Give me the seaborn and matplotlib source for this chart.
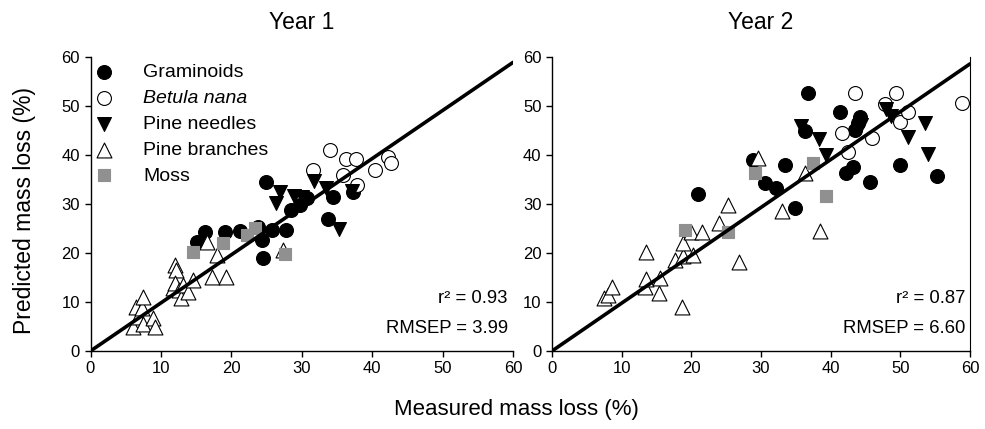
import matplotlib
matplotlib.use("Agg")
import matplotlib.pyplot as plt
import seaborn as sns
import pandas as pd

# ---------------- data ----------------
categories = ["Graminoids", "Betula nana", "Pine needles", "Pine branches", "Moss"]

# Year 1
gram1_x = [15.1, 16.2, 19.1, 21.2, 23.8, 24.3, 24.5, 24.9, 25.8, 27.7, 28.5, 29.7, 30.7, 33.7, 34.4, 37.3]
gram1_y = [22.3, 24.3, 24.3, 24.5, 25.4, 22.6, 19.0, 34.5, 24.6, 24.6, 28.8, 29.8, 31.2, 26.9, 31.5, 32.5]
betula1_x = [31.6, 34.0, 35.9, 36.3, 37.7, 37.8, 40.4, 42.2, 42.7]
betula1_y = [36.9, 41.0, 35.9, 39.1, 39.1, 33.9, 36.9, 39.5, 38.3]
needles1_x = [26.4, 26.9, 28.9, 30.1, 31.7, 33.4, 35.3, 37.2]
needles1_y = [30.3, 32.5, 31.6, 31.5, 34.6, 33.3, 24.8, 32.6]
branches1_x = [6.1, 6.5, 6.8, 7.3, 7.5, 7.5, 8.9, 9.2, 11.7, 12.0, 12.2, 12.0, 12.5, 12.9, 13.1,
               13.9, 14.6, 16.5, 17.2, 17.9, 19.3, 27.3]
branches1_y = [5.0, 9.0, 7.0, 8.7, 11.1, 5.6, 6.7, 5.0, 12.8, 17.6, 16.5, 13.8, 12.4, 10.8, 13.5,
               12.1, 14.5, 22.3, 15.2, 19.6, 15.2, 20.6]
moss1_x = [14.6, 18.8, 22.2, 23.4, 27.6]
moss1_y = [20.3, 22.1, 23.7, 25.1, 19.8]

# Year 2
gram2_x = [21.0, 28.9, 30.6, 32.2, 33.4, 34.9, 36.3, 36.8, 41.4, 42.2, 43.2, 43.5, 43.9, 44.2, 45.7, 49.9, 55.2]
gram2_y = [32.0, 39.0, 34.2, 33.2, 38.0, 29.2, 44.8, 52.7, 48.8, 36.3, 37.6, 45.0, 46.5, 47.8, 34.5, 38.0, 35.7]
betula2_x = [41.6, 42.5, 43.5, 46.0, 47.8, 49.4, 49.9, 51.1, 58.9]
betula2_y = [44.4, 40.7, 52.6, 43.4, 50.5, 52.6, 46.8, 48.8, 50.7]
needles2_x = [35.7, 38.3, 39.4, 44.3, 48.0, 48.6, 51.1, 53.5, 54.0]
needles2_y = [45.9, 43.3, 40.0, 46.2, 49.3, 48.0, 43.6, 46.5, 40.2]
branches2_x = [7.4, 8.1, 8.6, 13.3, 13.5, 13.5, 15.4, 15.5, 17.6, 18.6, 18.8, 18.8, 20.0, 20.3, 21.6,
               23.9, 25.3, 26.9, 29.6, 33.0, 36.3, 38.5]
branches2_y = [10.8, 11.4, 13.1, 13.0, 14.6, 20.3, 11.8, 14.8, 18.6, 9.0, 19.4, 22.0, 24.3, 19.6, 24.2,
               26.1, 29.8, 18.2, 39.3, 28.6, 36.3, 24.4]
moss2_x = [19.1, 25.3, 29.1, 37.5, 39.4]
moss2_y = [24.7, 24.3, 36.4, 38.3, 31.6]

# regression lines (end points)
fit1_x = [0, 60]
fit1_y = [0, 58.9]
fit2_x = [0, 60]
fit2_y = [0, 58.6]

titles = ["Year 1", "Year 2"]
r2_vals = ["0.93", "0.87"]
rmsep_vals = ["3.99", "6.60"]
ticks = [0, 10, 20, 30, 40, 50, 60]

# ---------------- style ----------------
sns.set_style("ticks")
plt.rcParams["font.family"] = ["Liberation Sans", "DejaVu Sans"]
plt.rcParams["text.color"] = "black"
plt.rcParams["axes.labelcolor"] = "black"
plt.rcParams["xtick.color"] = "black"
plt.rcParams["ytick.color"] = "black"

styles = {
    "Graminoids":    dict(marker="o", color="black", edgecolor="black", s=100, linewidth=0.8),
    "Betula nana":   dict(marker="o", color="white", edgecolor="black", s=100, linewidth=0.8),
    "Pine needles":  dict(marker="v", color="black", edgecolor="black", s=100, linewidth=0.8),
    "Pine branches": dict(marker="^", color="white", edgecolor="black", s=115, linewidth=0.8),
    "Moss":          dict(marker="s", color="#909090", edgecolor="#909090", s=80, linewidth=0.8),
}

def make_df(xs, ys):
    rows = []
    for cat, x, y in zip(categories, xs, ys):
        for a, b in zip(x, y):
            rows.append({"cat": cat, "x": a, "y": b})
    return pd.DataFrame(rows)

df1 = make_df([gram1_x, betula1_x, needles1_x, branches1_x, moss1_x],
              [gram1_y, betula1_y, needles1_y, branches1_y, moss1_y])
df2 = make_df([gram2_x, betula2_x, needles2_x, branches2_x, moss2_x],
              [gram2_y, betula2_y, needles2_y, branches2_y, moss2_y])

W, H = 985, 429
fig = plt.figure(figsize=(W / 100, H / 100), dpi=100)
ax1 = fig.add_axes([90.5 / W, (H - 351) / H, (513 - 90.5) / W, (351 - 57) / H])
ax2 = fig.add_axes([552 / W, (H - 351) / H, (970 - 552) / W, (351 - 57) / H])

for i, (ax, df, fx, fy) in enumerate([(ax1, df1, fit1_x, fit1_y), (ax2, df2, fit2_x, fit2_y)]):
    for z, cat in enumerate(categories):
        sub = df[df["cat"] == cat]
        sns.scatterplot(data=sub, x="x", y="y", ax=ax, label=cat, zorder=3 + z, **styles[cat])
    sns.lineplot(x=fx, y=fy, ax=ax, color="black", linewidth=2.6, zorder=10, legend=False)
    ax.set_xlim(0, 60)
    ax.set_ylim(0, 60)
    ax.set_xticks(ticks)
    ax.set_yticks(ticks)
    ax.set_xlabel("")
    ax.set_ylabel("")
    ax.tick_params(axis="both", direction="out", length=4, width=1, labelsize=12,
                   colors="black", labelcolor="black")
    for sp in ["left", "bottom"]:
        ax.spines[sp].set_linewidth(1.0)
        ax.spines[sp].set_color("black")
    ax.spines["top"].set_visible(False)
    ax.spines["right"].set_visible(i == 1)
    ax.spines["right"].set_color("black")
    ax.set_title(titles[i], fontsize=16.5, pad=20, color="black")
    ax.text(0.988, 0.18, "r\u00b2 = " + r2_vals[i], transform=ax.transAxes,
            ha="right", va="center", fontsize=13.3, color="black")
    ax.text(0.988, 0.078, "RMSEP = " + rmsep_vals[i], transform=ax.transAxes,
            ha="right", va="center", fontsize=13.3, color="black")
    if i == 0:
        leg = ax.legend(loc="upper left", frameon=False, fontsize=14, handlelength=1.0,
                        handletextpad=1.5, borderaxespad=0.0, borderpad=0.2,
                        labelspacing=0.42, markerscale=1.0,
                        bbox_to_anchor=(0.0, 0.99), labelcolor="black")
        for t in leg.get_texts():
            if t.get_text() == "Betula nana":
                t.set_fontstyle("italic")
    else:
        lg = ax.get_legend()
        if lg is not None:
            lg.remove()

fig.text(516 / W, 1 - 410 / H, "Measured mass loss (%)", ha="center", va="center",
         fontsize=16, color="black")
fig.text(25 / W, 1 - 210 / H, "Predicted mass loss (%)", ha="center", va="center",
         rotation=90, fontsize=16.5, color="black")

fig.savefig("out.png", dpi=100)
